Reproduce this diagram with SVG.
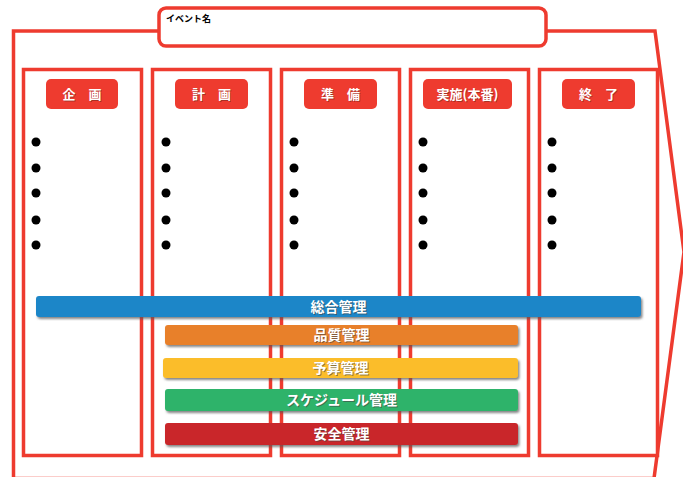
<svg xmlns="http://www.w3.org/2000/svg" width="683" height="477" viewBox="0 0 683 477">
<defs>
<style>
.frame{fill:none;stroke:#ee3b2f;stroke-width:3.5}
.col{fill:#fff;stroke:#ee3b2f;stroke-width:3.5}
.hdr{fill:#ee3b2f}
.ht{font-family:"Noto Sans CJK JP","Noto Sans CJK SC",sans-serif;font-weight:bold;font-size:13px;fill:#fff;text-anchor:middle}
.hs{font-family:"Noto Sans CJK JP","Noto Sans CJK SC",sans-serif;font-weight:bold;font-size:13px;fill:#7a2a20;text-anchor:middle;opacity:0.6}
.bt{font-family:"Noto Sans CJK JP","Noto Sans CJK SC",sans-serif;font-weight:bold;font-size:14px;fill:#fff;text-anchor:middle}
.bs{font-family:"Noto Sans CJK JP","Noto Sans CJK SC",sans-serif;font-weight:bold;font-size:14px;fill:#444;text-anchor:middle;opacity:0.6}
.dot{fill:#000}
</style>
<filter id="sh" x="-5%" y="-30%" width="110%" height="180%">
<feDropShadow dx="1.5" dy="2" stdDeviation="1.2" flood-color="#555" flood-opacity="0.7"/>
</filter>
</defs>
<g id="outer">
<polygon class="frame" points="13.5,31 655,31 684,252 654,478.5 13.5,478.5"/>
</g>
<g id="title">
<rect x="159" y="8" width="387" height="38" rx="7" fill="#fff" stroke="#ee3b2f" stroke-width="3.5"/>
<text x="166" y="22" font-family="Noto Sans CJK JP,sans-serif" font-size="9" font-weight="bold" fill="#000">イベント名</text>
</g>
<g id="col-kikaku">
<rect class="col" x="23.5" y="69.5" width="118" height="386"/>
<rect class="hdr" x="46" y="79" width="72" height="30" rx="5"/>
<text class="hs" x="83" y="100">企　画</text>
<text class="ht" x="82" y="99">企　画</text>
<circle class="dot" cx="36" cy="142" r="4.5"/><circle class="dot" cx="36" cy="168" r="4.5"/><circle class="dot" cx="36" cy="193" r="4.5"/><circle class="dot" cx="36" cy="220" r="4.5"/><circle class="dot" cx="36" cy="245" r="4.5"/>
</g>
<g id="col-keikaku">
<rect class="col" x="152.5" y="69.5" width="118" height="386"/>
<rect class="hdr" x="175" y="79" width="73" height="30" rx="5"/>
<text class="hs" x="212.5" y="100">計　画</text>
<text class="ht" x="211.5" y="99">計　画</text>
<circle class="dot" cx="166" cy="142" r="4.5"/><circle class="dot" cx="166" cy="168" r="4.5"/><circle class="dot" cx="166" cy="193" r="4.5"/><circle class="dot" cx="166" cy="220" r="4.5"/><circle class="dot" cx="166" cy="245" r="4.5"/>
</g>
<g id="col-junbi">
<rect class="col" x="281.5" y="69.5" width="118" height="386"/>
<rect class="hdr" x="304" y="79" width="73" height="30" rx="5"/>
<text class="hs" x="341.5" y="100">準　備</text>
<text class="ht" x="340.5" y="99">準　備</text>
<circle class="dot" cx="294" cy="142" r="4.5"/><circle class="dot" cx="294" cy="168" r="4.5"/><circle class="dot" cx="294" cy="193" r="4.5"/><circle class="dot" cx="294" cy="220" r="4.5"/><circle class="dot" cx="294" cy="245" r="4.5"/>
</g>
<g id="col-jisshi">
<rect class="col" x="410.5" y="69.5" width="118" height="386"/>
<rect class="hdr" x="423" y="79" width="89" height="30" rx="5"/>
<text class="hs" x="468.5" y="100">実施(本番)</text>
<text class="ht" x="467.5" y="99">実施(本番)</text>
<circle class="dot" cx="423" cy="142" r="4.5"/><circle class="dot" cx="423" cy="168" r="4.5"/><circle class="dot" cx="423" cy="193" r="4.5"/><circle class="dot" cx="423" cy="220" r="4.5"/><circle class="dot" cx="423" cy="245" r="4.5"/>
</g>
<g id="col-shuryo">
<rect class="col" x="539.5" y="69.5" width="118" height="386"/>
<rect class="hdr" x="562" y="79" width="73" height="30" rx="5"/>
<text class="hs" x="599.5" y="100">終　了</text>
<text class="ht" x="598.5" y="99">終　了</text>
<circle class="dot" cx="552" cy="142" r="4.5"/><circle class="dot" cx="552" cy="168" r="4.5"/><circle class="dot" cx="552" cy="193" r="4.5"/><circle class="dot" cx="552" cy="220" r="4.5"/><circle class="dot" cx="552" cy="245" r="4.5"/>
</g>
<g id="bar-sogo">
<rect x="36" y="296" width="605" height="21" rx="3" fill="#1f86c8" filter="url(#sh)"/>
<text class="bs" x="339.5" y="312.5">総合管理</text>
<text class="bt" x="338.5" y="311.5">総合管理</text>
</g>
<g id="bar-hinshitsu">
<rect x="165" y="325" width="353" height="20" rx="3" fill="#e8802a" filter="url(#sh)"/>
<text class="bs" x="342.5" y="341">品質管理</text>
<text class="bt" x="341.5" y="340">品質管理</text>
</g>
<g id="bar-yosan">
<rect x="163" y="358" width="355" height="20" rx="3" fill="#fbbd2b" filter="url(#sh)"/>
<text class="bs" x="341.5" y="374">予算管理</text>
<text class="bt" x="340.5" y="373">予算管理</text>
</g>
<g id="bar-schedule">
<rect x="165" y="389" width="353" height="22" rx="3" fill="#2eb36b" filter="url(#sh)"/>
<text class="bs" x="342.5" y="406">スケジュール管理</text>
<text class="bt" x="341.5" y="405">スケジュール管理</text>
</g>
<g id="bar-anzen">
<rect x="165" y="423" width="353" height="22" rx="3" fill="#c9282a" filter="url(#sh)"/>
<text class="bs" x="342.5" y="440">安全管理</text>
<text class="bt" x="341.5" y="439">安全管理</text>
</g>
</svg>
